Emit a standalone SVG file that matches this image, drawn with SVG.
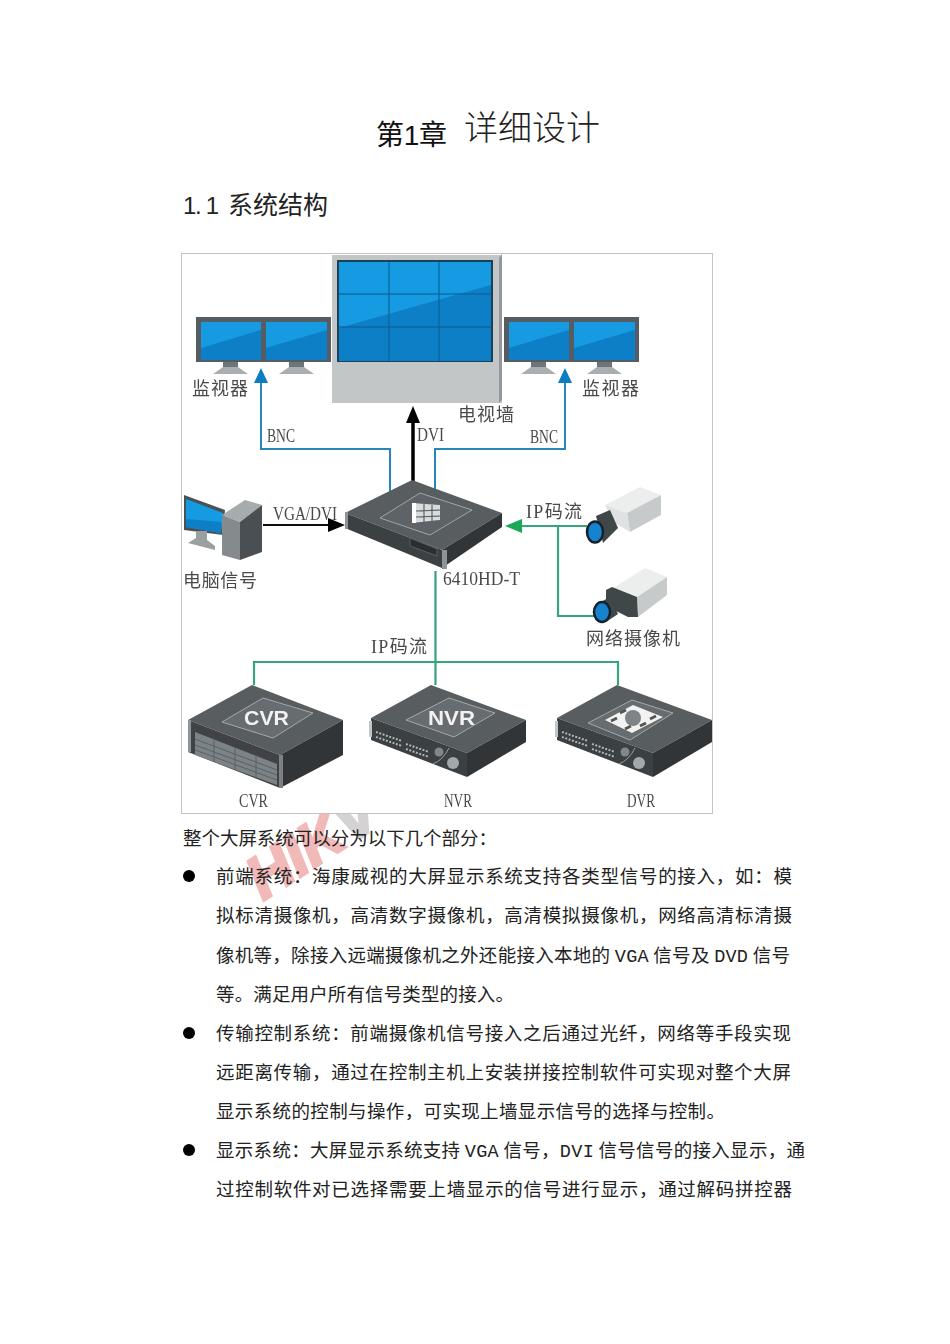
<svg xmlns="http://www.w3.org/2000/svg" width="950" height="1344" viewBox="0 0 950 1344">
<style>
text{font-family:"Liberation Sans","Noto Sans CJK SC",sans-serif}
.body{font-family:"Liberation Mono","Noto Sans CJK SC",monospace;font-size:18.500px;fill:#222}
.sp{font-size:7px}
.lab{font-family:"Liberation Serif","Noto Sans CJK SC",serif;font-size:18px;fill:#4a4a4a}
.bnc{fill:none;stroke:#2a86b8;stroke-width:2}
.grn{fill:none;stroke:#35a57a;stroke-width:2.200}
.scr{fill:#149ae2}
.hi{fill:#0b7fc6}
.frm{fill:#555d62}
.grid{stroke:#0d5a8e;stroke-width:1;fill:none}
.top{fill:#585d60}
.lft{fill:#3b3f42}
.rgt{fill:#303538}
.tag{fill:#666c6f;stroke:#a4a9ab;stroke-width:1}
.tagt{font-family:"Liberation Sans",sans-serif;font-weight:bold;font-size:20px;fill:#f2f2f2}
.cam{fill:#eceeee}
.cams{fill:#c6cacb}
.camd{fill:#3f4649}
.lens{fill:#1283cf;stroke:#16232b;stroke-width:2.500}
.btn{stroke:#b0b4b5;stroke-width:2;stroke-dasharray:2 1.500;fill:none}
.soft{filter:url(#soft)}
.wm{font-family:"Liberation Sans",sans-serif;font-weight:bold;font-style:italic;font-size:60px;fill:#f1b9b8;stroke:#f1b9b8;stroke-width:3}
</style>
<defs>
<filter id="soft" x="-5%" y="-5%" width="110%" height="110%"><feGaussianBlur stdDeviation="0.450"/></filter>
<marker id="hb" markerUnits="userSpaceOnUse" markerWidth="16" markerHeight="14" refX="0" refY="7" orient="auto"><path d="M0 0L15 7L0 14Z" fill="#0f7cc0"/></marker>
<marker id="hk" markerUnits="userSpaceOnUse" markerWidth="18" markerHeight="14" refX="0" refY="7" orient="auto"><path d="M0 0L17 7L0 14Z" fill="#000"/></marker>
<marker id="hg" markerUnits="userSpaceOnUse" markerWidth="18" markerHeight="14" refX="0" refY="7" orient="auto"><path d="M0 0L17 7L0 14Z" fill="#1fa85a"/></marker>
<g id="monitor-pair">
<rect x="0" y="0" width="135" height="45" class="frm"/>
<rect x="5" y="5" width="60" height="38" class="scr"/>
<rect x="70" y="5" width="61" height="38" class="scr"/>
<path d="M5 43V31L65 13V43Z" class="hi"/>
<path d="M70 43V31L131 13V43Z" class="hi"/>
<rect x="27" y="45" width="15" height="7" fill="#6d7578"/>
<rect x="93" y="45" width="15" height="7" fill="#6d7578"/>
<path d="M17 57L27 50H42L52 57Z" fill="#a9aeb0"/>
<path d="M83 57L93 50H108L118 57Z" fill="#a9aeb0"/>
</g>
<g id="chassis">
<path d="M371 718L431 685L526 720L467 753Z" class="top"/>
<path d="M371 718L467 753V777L371 740Z" class="lft"/>
<path d="M467 753L526 720V742L467 777Z" class="rgt"/>
<path d="M376 732L402 741M376 737L402 746M406 744L429 752M406 749L429 757" class="btn"/>
<circle cx="439" cy="752" r="4.500" fill="#81878a"/>
<circle cx="453" cy="763" r="6" fill="#a3a8aa"/>
<path d="M433 764Q443 760 449 748" stroke="#9aa0a2" fill="none"/>
<rect x="369" y="721" width="3" height="16" fill="#c2c5c6"/>
</g>
</defs>

<g id="watermark"><text class="wm" x="263" y="901" transform="rotate(-33 263 901)">HIK<tspan fill="#d4d2d2" stroke="#d4d2d2">V</tspan></text></g>

<g id="heading">
<text x="376" y="145" font-size="28" fill="#111" textLength="71">第1章</text>
<text x="464" y="140" font-size="34" fill="#222" textLength="136" style="font-weight:300">详细设计</text>
<text x="183" y="214" font-size="24" fill="#222" textLength="36">1. 1</text>
<text x="228" y="214" font-size="25" fill="#222" textLength="100">系统结构</text>
</g>

<rect id="panel" x="181.500" y="253.500" width="531" height="560" fill="#fff" stroke="#c4c4c4"/>

<g class="soft">
<g id="wall">
<rect x="332" y="255" width="170" height="148" fill="#c3c6c7"/>
<path d="M499 258L502 254V400L499 403Z" fill="#93979a"/>
<rect x="337" y="260" width="156" height="102" fill="#1d3f55"/>
<rect x="339" y="262" width="152" height="99" class="scr"/>
<path d="M339 328L491 285V361H339Z" class="hi"/>
<path d="M389 262V361M439 262V361M339 294H491M339 327H491" class="grid"/>
<text class="lab" x="458" y="421" textLength="56">电视墙</text>
</g>

<g id="monitors-left"><use href="#monitor-pair" x="196" y="317"/><text class="lab" x="192" y="395" textLength="56">监视器</text></g>
<g id="monitors-right"><use href="#monitor-pair" x="504" y="317"/><text class="lab" x="582" y="395" textLength="57">监视器</text></g>

<g id="connectors">
<path class="bnc" d="M390 495V449H261V383" marker-end="url(#hb)"/>
<path class="bnc" d="M435 495V449H565V383" marker-end="url(#hb)"/>
<path d="M413 482V423" stroke="#000" stroke-width="3.500" fill="none" marker-end="url(#hk)"/>
<path d="M263 525H328" stroke="#111" stroke-width="2" fill="none" marker-end="url(#hk)"/>
<path class="grn" d="M587 526H522" marker-end="url(#hg)"/>
<path class="grn" d="M558 526V616H596"/>
<path class="grn" d="M435.500 571V685M254 685V662H618V685"/>
<text class="lab" x="267" y="442" textLength="28" lengthAdjust="spacingAndGlyphs">BNC</text>
<text class="lab" x="530" y="443" textLength="28" lengthAdjust="spacingAndGlyphs">BNC</text>
<text class="lab" x="417" y="441" textLength="27" lengthAdjust="spacingAndGlyphs">DVI</text>
<text class="lab" x="273" y="520" textLength="64" lengthAdjust="spacingAndGlyphs">VGA/DVI</text>
<text class="lab" x="526" y="518" textLength="56">IP码流</text>
<text class="lab" x="371" y="653" textLength="56">IP码流</text>
</g>

<g id="pc">
<path d="M184 495L225 510L223 535L184 530Z" fill="#4a5257"/>
<path d="M186 499L223 513L221 533L186 527Z" class="scr"/>
<path d="M186 519L221 522V533L186 527Z" class="hi"/>
<path d="M196 531H207V540L215 546V550L188 543L196 538Z" fill="#9a9fa1"/>
<path d="M222 515L245 500L262 505L240 522Z" fill="#a6abad"/>
<path d="M222 515L240 522V560L222 555Z" fill="#858a8c"/>
<path d="M240 522L262 505V552L240 560Z" fill="#4a4f52"/>
<text class="lab" x="183" y="587" textLength="74">电脑信号</text>
</g>

<g id="switch">
<path d="M345 513L412 480L502 513L442 550Z" class="top"/>
<path d="M345 513L442 550V568L345 528Z" class="lft"/>
<path d="M442 550L502 513V527L442 568Z" class="rgt"/>
<path d="M380 518L420 493L472 510L430 535Z" fill="#5d6366" stroke="#a0a5a7" stroke-linejoin="round"/>
<path d="M412 503L440 505V520L412 523Z" fill="#d9dcdc"/>
<path d="M412 503H416V523H412Z" fill="#fff"/>
<path d="M424 504V522M432 505V521M416 511L440 510M416 517L440 516" stroke="#5d6366" stroke-width="1.200" fill="none"/>
<path d="M410 538L437 549V556L410 546Z" fill="#2a2d30" stroke="#5a5f62"/>
<rect x="345" y="512" width="3" height="17" fill="#8e9395"/>
<rect x="442" y="550" width="5" height="19" fill="#8e9395"/>
<text class="lab" x="443" y="585" textLength="77" lengthAdjust="spacingAndGlyphs">6410HD-T</text>
</g>

<g id="camera-1">
<path d="M605 505L640 487L661 495L627 513Z" class="cam"/>
<path d="M627 513L661 495V515L630 532Z" class="cams"/>
<path d="M605 505L627 513L630 532L613 522Z" fill="#dfe2e2"/>
<path d="M596 516L610 510L618 528L603 543Z" class="camd"/>
<ellipse cx="595" cy="532" rx="8" ry="10.500" class="lens"/>
</g>
<g id="camera-2">
<path d="M610 590L645 568L667 577L637 597Z" class="cam"/>
<path d="M637 597L667 577V595L638 617Z" class="cams"/>
<path d="M606 590L612 587L637 597L638 617L628 617L606 606Z" class="camd"/>
<path d="M597 604L610 597L618 614L606 622Z" class="camd"/>
<ellipse cx="602" cy="612" rx="8" ry="10" class="lens"/>
<text class="lab" x="586" y="645" textLength="94">网络摄像机</text>
</g>

<g id="cvr">
<path d="M188 720L252 685L343 720L280 755Z" class="top"/>
<path d="M188 720L280 755V788L188 752Z" fill="#3f4346"/>
<path d="M280 755L343 720V755L280 788Z" class="rgt"/>
<path d="M195 732L277 764V785L195 755Z" fill="#7c8386"/>
<path d="M195 739L277 770M195 745L277 775M195 750L277 780M214 740V762M235 747V770M256 755V778" stroke="#5a6063" fill="none"/>
<rect x="188" y="720" width="3" height="32" fill="#8e9395"/>
<rect x="279" y="755" width="4" height="33" fill="#7b8082"/>
<path d="M222 722L263 698L313 713L273 738Z" class="tag"/>
<text class="tagt" x="244" y="725" textLength="45" lengthAdjust="spacingAndGlyphs">CVR</text>
<text class="lab" x="239" y="807" textLength="29" lengthAdjust="spacingAndGlyphs">CVR</text>
</g>
<g id="nvr">
<use href="#chassis"/>
<path d="M406 720L449 698L495 713L454 737Z" class="tag"/>
<text class="tagt" x="428" y="725" textLength="47" lengthAdjust="spacingAndGlyphs">NVR</text>
<text class="lab" x="444" y="807" textLength="28" lengthAdjust="spacingAndGlyphs">NVR</text>
</g>
<g id="dvr">
<use href="#chassis" x="186"/>
<path d="M588 723L632 700L673 713L630 740Z" class="tag"/>
<path d="M605 720L633 705L663 717L632 733Z" fill="#f2f2f2"/>
<path d="M611 721L617 718M625 729L631 726M640 726L646 723M650 719L656 716M620 713L626 710" stroke="#555" stroke-width="3" fill="none"/>
<ellipse cx="633" cy="718" rx="8" ry="8" fill="#7d8386"/>
<text class="lab" x="627" y="807" textLength="28" lengthAdjust="spacingAndGlyphs">DVR</text>
</g>
</g>

<g id="body">
<text class="body" x="183" y="845" textLength="314">整个大屏系统可以分为以下几个部分：</text>
<circle cx="189" cy="876" r="6" fill="#000"/>
<text class="body" x="216" y="883" textLength="576">前端系统：海康威视的大屏显示系统支持各类型信号的接入，如：模</text>
<text class="body" x="216" y="922" textLength="576">拟标清摄像机，高清数字摄像机，高清模拟摄像机，网络高清标清摄</text>
<text class="body" x="216" y="962" textLength="574">像机等，除接入远端摄像机之外还能接入本地的<tspan class="sp"> </tspan>VGA<tspan class="sp"> </tspan>信号及<tspan class="sp"> </tspan>DVD<tspan class="sp"> </tspan>信号</text>
<text class="body" x="216" y="1001" textLength="298">等。满足用户所有信号类型的接入。</text>
<circle cx="189" cy="1033" r="6" fill="#000"/>
<text class="body" x="216" y="1040" textLength="575">传输控制系统：前端摄像机信号接入之后通过光纤，网络等手段实现</text>
<text class="body" x="216" y="1079" textLength="575">远距离传输，通过在控制主机上安装拼接控制软件可实现对整个大屏</text>
<text class="body" x="216" y="1118" textLength="509">显示系统的控制与操作，可实现上墙显示信号的选择与控制。</text>
<circle cx="189" cy="1150" r="6" fill="#000"/>
<text class="body" x="216" y="1157" textLength="589">显示系统：大屏显示系统支持<tspan class="sp"> </tspan>VGA<tspan class="sp"> </tspan>信号，DVI<tspan class="sp"> </tspan>信号信号的接入显示，通</text>
<text class="body" x="216" y="1196" textLength="576">过控制软件对已选择需要上墙显示的信号进行显示，通过解码拼控器</text>
</g>
</svg>
